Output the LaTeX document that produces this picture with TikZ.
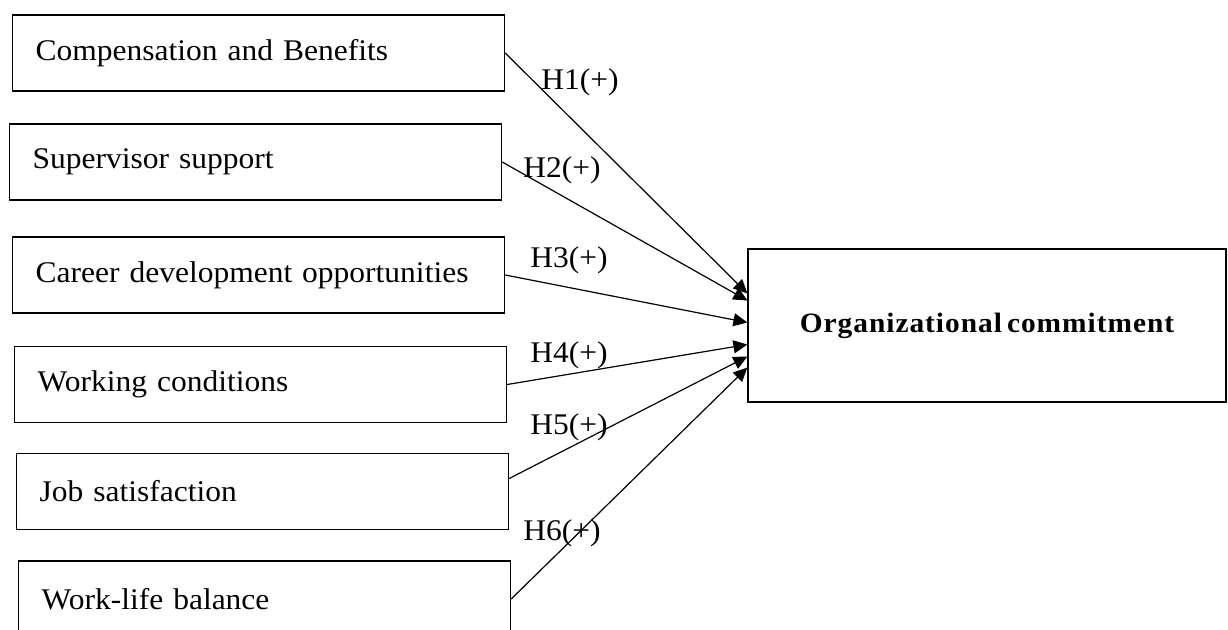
\documentclass[tikz,border=0pt]{standalone}
\usepackage{fontspec}
\setmainfont[FakeStretch=1.05, WordSpace=0.6]{Liberation Serif}
\usetikzlibrary{arrows.meta}

\begin{document}
\begin{tikzpicture}[x=1pt, y=-1pt,
    factor/.style={draw, line width=1.2pt, anchor=west, text width=446pt, inner xsep=23pt, minimum height=76pt, align=left, font=\fontsize{30}{35}\selectfont},
    outcome/.style={draw, line width=1.2pt, minimum width=478pt, minimum height=153pt, font=\fontsize{28}{33}\selectfont\bfseries\addfontfeatures{LetterSpace=3.5}},
    hyp/.style={font=\fontsize{30}{35}\selectfont},
    link/.style={line width=1.2pt, -{Triangle[length=14pt,width=13pt]}}]
    \useasboundingbox (0, 0) rectangle (1228, 629);
    % factors
    \node[factor] (comp) at (12, 53) {Compensation and Benefits};
    \node[factor] (sup) at (9, 162) {Supervisor support};
    \node[factor] (career) at (12, 275) {Career development opportunities};
    \node[factor] (work) at (14, 384.5) {Working conditions};
    \node[factor] (job) at (16, 491.5) {Job satisfaction};
    \node[factor] (wlb) at (18, 599) {Work-life balance};
    % outcome
    \node[outcome] (oc) at (987, 325.5) {Organizational commitment};
    % hypotheses
    \draw[link] (comp.east) -- ([yshift=32pt]oc.west);
    \draw[link] (sup.east) -- ([yshift=25pt]oc.west);
    \draw[link] (career.east) -- ([yshift=3pt]oc.west);
    \draw[link] (work.east) -- ([yshift=-19pt]oc.west);
    \draw[link] ([yshift=13pt]job.east) -- ([yshift=-31pt]oc.west);
    \draw[link] (wlb.east) -- ([yshift=-42pt]oc.west);
    \node[hyp] (h1) at (580, 82) {H1(+)};
    \node[hyp] (h2) at (562, 170) {H2(+)};
    \node[hyp] (h3) at (569, 260) {H3(+)};
    \node[hyp] (h4) at (569, 355) {H4(+)};
    \node[hyp] (h5) at (569, 427) {H5(+)};
    \node[hyp] (h6) at (562, 533) {H6(+)};
\end{tikzpicture}
\end{document}
